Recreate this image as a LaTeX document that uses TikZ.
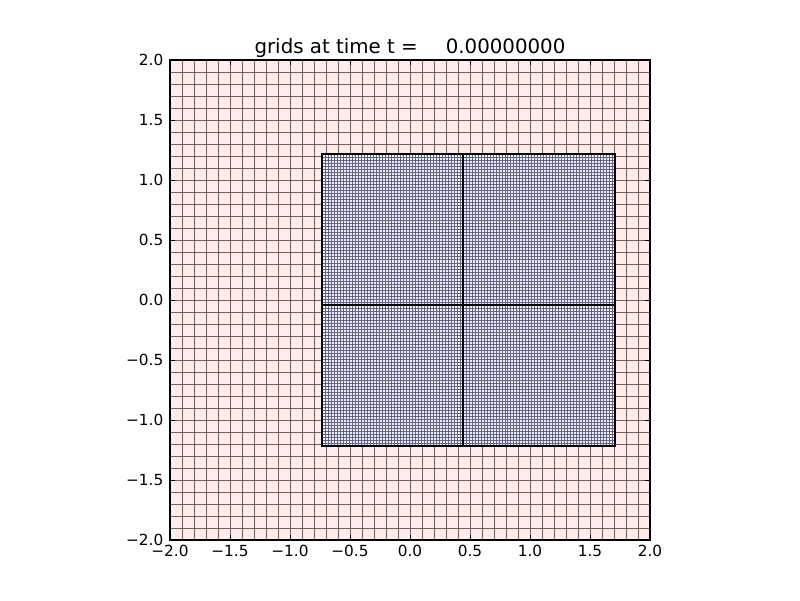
\documentclass[tikz,border=0pt]{standalone}
\usepackage{fontspec}
\setmainfont{DejaVu Sans}
\definecolor{cfill}{RGB}{255,236,236}
\definecolor{cline}{RGB}{118,92,92}
\definecolor{ffill}{RGB}{238,239,252}
\definecolor{fline}{RGB}{100,100,132}
\tikzset{
  coarseline/.style={draw=cline, line width=0.55pt},
  fineline/.style={draw=fline, line width=0.45pt},
  patchborder/.style={draw=black, line width=2.2pt},
  axframe/.style={draw=black, line width=1.2pt},
  tickmark/.style={draw=black, line width=0.9pt},
  ticklabel/.style={inner sep=0pt, font=\fontsize{15.3pt}{18pt}\selectfont},
  titlestyle/.style={inner sep=0pt, font=\fontsize{19.8pt}{23pt}\selectfont},
}
\newcommand\finepatch[6]{%
  \fill[ffill] (#1,#3) rectangle (#2,#4);
  \pgfmathsetmacro\dxp{(#2-#1)/#5}%
  \pgfmathsetmacro\dyp{(#4-#3)/#6}%
  \foreach \i in {1,...,#5} \draw[fineline] ({#1+\i*\dxp},#3) -- ({#1+\i*\dxp},#4);
  \foreach \j in {1,...,#6} \draw[fineline] (#1,{#3+\j*\dyp}) -- (#2,{#3+\j*\dyp});
  \draw[patchborder] (#1,#3) rectangle (#2,#4);
}
\begin{document}
\begin{tikzpicture}[x=120pt,y=120pt]
\useasboundingbox (-3.41667,-2.5) rectangle (3.25,2.5);
\fill[white] (-3.41667,-2.5) rectangle (3.25,2.5);
% coarse grid
\fill[cfill] (-2,-2) rectangle (2,2);
\draw[coarseline] (-2,-2) grid[step=0.1] (2,2);
% fine patches
\finepatch{-0.733}{0.442}{-1.217}{-0.042}{47}{47}
\finepatch{-0.733}{0.442}{-0.042}{1.217}{47}{50}
\finepatch{0.442}{1.708}{-1.217}{-0.042}{51}{47}
\finepatch{0.442}{1.708}{-0.042}{1.217}{51}{50}
% axes frame
\coordinate (ll) at (-2,-2);
\coordinate (ur) at (2,2);
\draw[axframe] (ll) rectangle (ur);
% ticks
\foreach \v in {-1.5,-1.0,-0.5,0.0,0.5,1.0,1.5} {
  \draw[tickmark] (\v,-2) -- ++(0,5pt);
  \draw[tickmark] (\v,2) -- ++(0,-5pt);
  \draw[tickmark] (-2,\v) -- ++(5pt,0);
  \draw[tickmark] (2,\v) -- ++(-5pt,0);
}
% tick labels
\foreach \v/\t [count=\k] in {-2/−2.0,-1.5/−1.5,-1/−1.0,-0.5/−0.5,0/0.0,0.5/0.5,1/1.0,1.5/1.5,2/2.0} {
  \node[ticklabel, anchor=north] (xl\k) at ([yshift=-5pt]\v,-2) {\t};
  \node[ticklabel, anchor=east] (yl\k) at ([xshift=-6.5pt]-2,\v) {\t};
}
% title
\node[titlestyle, anchor=base] (title) at (0,2.058) {grids at time t =\hspace{28pt}0.00000000};
\end{tikzpicture}
\end{document}
